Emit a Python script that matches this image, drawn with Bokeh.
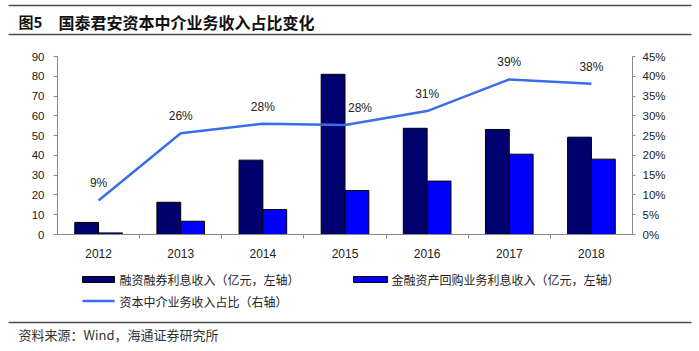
from bokeh.plotting import figure
from bokeh.models import (Range1d, LinearAxis, FixedTicker, PrintfTickFormatter,
                          ColumnDataSource)
from bokeh.layouts import column
from bokeh.transform import dodge
from bokeh.embed import file_html
from bokeh.resources import INLINE
from bokeh.core.properties import value

# ---------------- data ----------------
years = ["2012", "2013", "2014", "2015", "2016", "2017", "2018"]
margin_income = [6.1, 16.3, 37.6, 81.0, 53.7, 53.1, 49.2]      # 融资融券利息收入（亿元）
repo_income = [0.8, 6.7, 12.6, 22.2, 27.0, 40.6, 38.1]          # 金融资产回购业务利息收入（亿元）
share_pct = [8.6, 25.6, 28.0, 27.7, 31.2, 39.2, 38.1]           # 资本中介业务收入占比（%）
share_labels = ["9%", "26%", "28%", "28%", "31%", "39%", "38%"]
left_ticks = [0, 10, 20, 30, 40, 50, 60, 70, 80, 90]
right_ticks = [0, 5, 10, 15, 20, 25, 30, 35, 40, 45]

title_num = "图5"
title_text = "国泰君安资本中介业务收入占比变化"
legend_labels = ["融资融券利息收入（亿元，左轴）",
                 "金融资产回购业务利息收入（亿元，左轴）",
                 "资本中介业务收入占比（右轴）"]
source_text = "资料来源：Wind，海通证券研究所"

# label style offsets (px)
label_dx = [0, 0, 0, 15, 0, 0, 0]

# ---------------- styles ----------------
FONT = "Liberation Sans"
CJK = "Noto Sans CJK SC"
DARK = "#00006E"
BLUE = "#0000FF"
LINE = "#3A6EE8"
RULE = "#4A4A4A"
W = 699


def strip(height):
    s = figure(width=W, height=height, x_range=Range1d(0, W), y_range=Range1d(height, 0),
               output_backend="svg", toolbar_location=None, min_border=0,
               x_axis_location=None, y_axis_location=None, outline_line_color=None,
               frame_align=False)
    s.grid.visible = False
    return s


x_center = [i + 0.5 for i in range(len(years))]
src = ColumnDataSource(dict(x=x_center, m=margin_income, r=repo_income,
                            pct=share_pct, lbl=share_labels, dx=label_dx))

# ---------------- title strip ----------------
t = strip(38)
t.segment(x0=[8, 8], y0=[5, 34], x1=[691, 691], y1=[5, 34], line_color=RULE, line_width=1.5)
t.text(x=[18], y=[21], text=[title_num], text_font=value(CJK), text_font_style="bold",
       text_font_size="15px", text_color="#111", text_baseline="middle")
t.text(x=[58], y=[21], text=[title_text], text_font=value(CJK), text_font_style="bold",
       text_font_size="16px", text_color="#111", text_baseline="middle")

# ---------------- main chart ----------------
p = figure(width=W, height=226, x_range=Range1d(0, len(years)), y_range=Range1d(0, 90),
           output_backend="svg", toolbar_location=None,
           min_border_left=57, min_border_right=67, min_border_top=18, min_border_bottom=30,
           outline_line_color=None, frame_align=False)
p.xgrid.visible = False
p.ygrid.visible = False
p.extra_y_ranges = {"pct": Range1d(0, 45)}

p.vbar(x=dodge("x", -0.145, range=p.x_range), top="m", width=0.29, source=src,
       fill_color=DARK, line_color="#000000", line_width=1)
p.vbar(x=dodge("x", 0.145, range=p.x_range), top="r", width=0.29, source=src,
       fill_color=BLUE, line_color="#000000", line_width=1)
p.line(x="x", y="pct", source=src, y_range_name="pct", line_color=LINE, line_width=2.5)
p.text(x="x", y="pct", text="lbl", source=src, y_range_name="pct", x_offset="dx", y_offset=-17,
       text_align="center", text_baseline="middle", text_font=value(FONT),
       text_font_size="12px", text_color="#222")

# x axis
xa = p.xaxis[0]
xa.ticker = FixedTicker(ticks=x_center, minor_ticks=[1, 2, 3, 4, 5, 6])
xa.major_label_overrides = {c: y for c, y in zip(x_center, years)}
xa.major_tick_out = 0
xa.major_tick_in = 0
xa.minor_tick_out = 4
xa.minor_tick_in = 0
xa.minor_tick_line_color = "#888888"
xa.axis_line_color = "#888888"
xa.major_label_standoff = 10
xa.major_label_text_font = FONT
xa.major_label_text_font_size = "12px"
xa.major_label_text_color = "#222"

# left axis
ya = p.yaxis[0]
ya.ticker = FixedTicker(ticks=left_ticks)
ya.major_tick_out = 4
ya.major_tick_in = 0
ya.minor_tick_line_color = None
ya.axis_line_color = "#888888"
ya.major_tick_line_color = "#888888"
ya.major_label_standoff = 9
ya.major_label_text_font = FONT
ya.major_label_text_font_size = "11.5px"
ya.major_label_text_color = "#222"

# right axis
ra = LinearAxis(y_range_name="pct", ticker=FixedTicker(ticks=right_ticks),
                formatter=PrintfTickFormatter(format="%d%%"))
ra.major_tick_out = 3
ra.major_tick_in = 0
ra.minor_tick_line_color = None
ra.axis_line_color = "#888888"
ra.major_tick_line_color = "#888888"
ra.major_label_standoff = 7
ra.major_label_text_font = FONT
ra.major_label_text_font_size = "11.5px"
ra.major_label_text_color = "#222"
p.add_layout(ra, "right")

# ---------------- legend strip ----------------
lg = strip(56)
lg.quad(left=[82, 353], right=[114, 387], top=[12, 12], bottom=[18, 18],
        fill_color=[DARK, BLUE], line_color="#000000", line_width=1)
lg.segment(x0=[82], y0=[36.5], x1=[114], y1=[36.5], line_color=LINE, line_width=2.5)
lg.text(x=[119, 391, 119], y=[15, 15, 36.5], text=legend_labels, text_font=value(CJK),
        text_font_size="12px", text_color="#222", text_baseline="middle")

# ---------------- footer ----------------
f = strip(31)
f.segment(x0=[8], y0=[2], x1=[691], y1=[2], line_color=RULE, line_width=1.3)
f.text(x=[18], y=[14], text=[source_text], text_font=value(CJK), text_font_size="13px",
       text_color="#333", text_baseline="middle")

layout = column(t, p, lg, f, spacing=0)
open("out.html", "w").write(file_html(layout, INLINE))
